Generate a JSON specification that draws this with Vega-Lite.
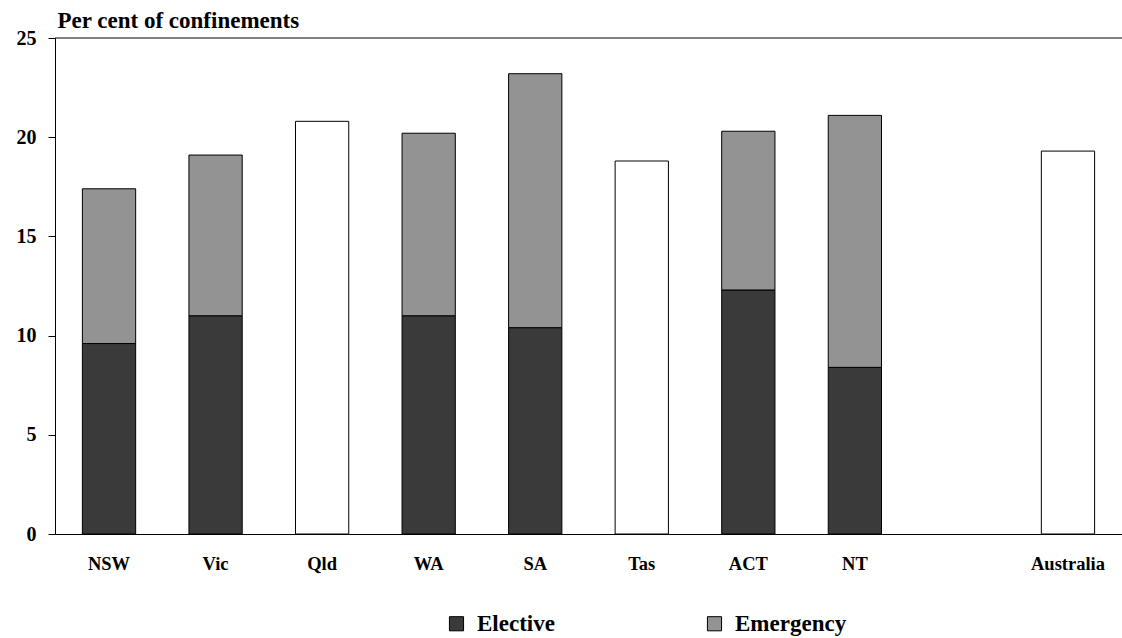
{
  "$schema": "https://vega.github.io/schema/vega-lite/v6.json",
  "autosize": "none",
  "width": 1067,
  "height": 496,
  "padding": {"left": 55, "top": 38, "right": 0, "bottom": 104},
  "background": "white",
  "config": {
    "view": {"stroke": null},
    "font": "Liberation Serif"
  },
  "data": {
    "values": [
      {"state": "NSW", "type": "Elective", "value": 9.6},
      {"state": "NSW", "type": "Emergency", "value": 7.8},
      {"state": "Vic", "type": "Elective", "value": 11.0},
      {"state": "Vic", "type": "Emergency", "value": 8.1},
      {"state": "Qld", "type": "Total", "value": 20.8},
      {"state": "WA", "type": "Elective", "value": 11.0},
      {"state": "WA", "type": "Emergency", "value": 9.2},
      {"state": "SA", "type": "Elective", "value": 10.4},
      {"state": "SA", "type": "Emergency", "value": 12.8},
      {"state": "Tas", "type": "Total", "value": 18.8},
      {"state": "ACT", "type": "Elective", "value": 12.3},
      {"state": "ACT", "type": "Emergency", "value": 8.0},
      {"state": "NT", "type": "Elective", "value": 8.4},
      {"state": "NT", "type": "Emergency", "value": 12.7},
      {"state": "Australia", "type": "Total", "value": 19.3}
    ]
  },
  "layer": [
    {
      "mark": {"type": "bar", "stroke": "black", "strokeWidth": 1},
      "encoding": {
        "x": {
          "field": "state",
          "type": "nominal",
          "scale": {
            "domain": ["NSW", "Vic", "Qld", "WA", "SA", "Tas", "ACT", "NT", "gap", "Australia"],
            "paddingInner": 0.5,
            "paddingOuter": 0.257
          },
          "axis": {
            "title": null,
            "labelAngle": 0,
            "ticks": false,
            "domainColor": "black",
            "domainWidth": 1,
            "labelFont": "Liberation Serif",
            "labelFontWeight": "bold",
            "labelFontSize": 18.5,
            "labelColor": "black",
            "labelPadding": 20,
            "labelExpr": "datum.value == 'gap' ? '' : datum.value"
          }
        },
        "y": {
          "field": "value",
          "type": "quantitative",
          "stack": "zero",
          "scale": {"domain": [0, 25], "nice": false},
          "axis": {
            "values": [0, 5, 10, 15, 20, 25],
            "grid": false,
            "domainColor": "black",
            "tickColor": "black",
            "tickSize": 7,
            "labelFont": "Liberation Serif",
            "labelFontWeight": "bold",
            "labelFontSize": 20,
            "labelColor": "black",
            "labelPadding": 12,
            "title": "Per cent of confinements",
            "titleAngle": 0,
            "titleAlign": "left",
            "titleBaseline": "alphabetic",
            "titleX": 2,
            "titleY": -11,
            "titleFont": "Liberation Serif",
            "titleFontWeight": "bold",
            "titleFontSize": 23,
            "titleColor": "black"
          }
        },
        "color": {
          "field": "type",
          "type": "nominal",
          "scale": {
            "domain": ["Elective", "Emergency", "Total"],
            "range": ["#3a3a3a", "#939393", "#ffffff"]
          },
          "legend": {
            "title": null,
            "values": ["Elective", "Emergency"],
            "orient": "none",
            "direction": "horizontal",
            "legendX": 390,
            "legendY": 574,
            "symbolType": "square",
            "symbolSize": 200,
            "symbolStrokeColor": "black",
            "symbolStrokeWidth": 1,
            "labelFont": "Liberation Serif",
            "labelFontWeight": "bold",
            "labelFontSize": 23,
            "labelColor": "black",
            "labelOffset": 9,
            "columnPadding": 148
          }
        },
        "order": {"field": "type", "sort": "ascending"}
      }
    },
    {
      "data": {"values": [{"level": 25}]},
      "mark": {"type": "rule", "color": "black", "strokeWidth": 1},
      "encoding": {
        "y": {"field": "level", "type": "quantitative"}
      }
    }
  ]
}
